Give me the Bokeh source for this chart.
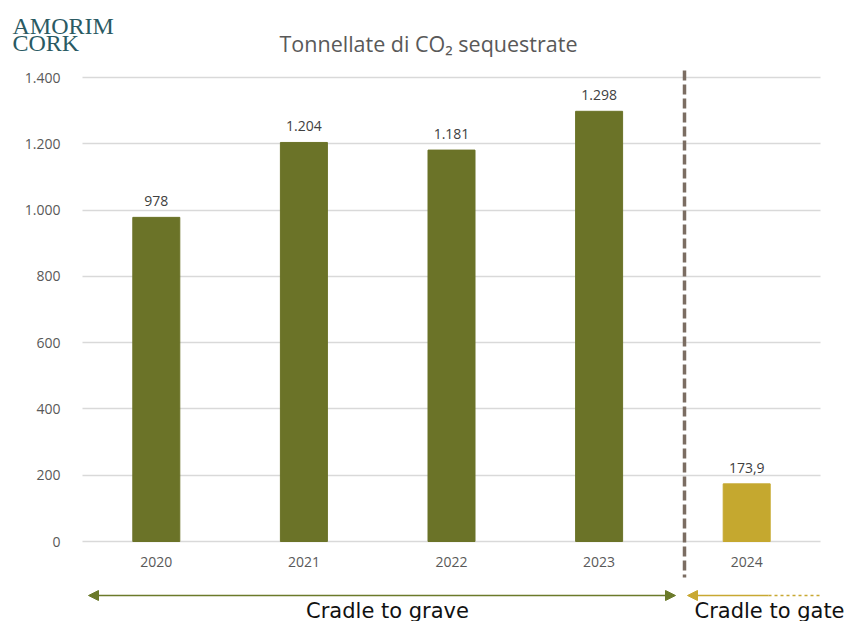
from bokeh.plotting import figure
from bokeh.models import Range1d, FixedTicker, Label, Arrow, NormalHead, Grid
from bokeh.core.properties import value
from bokeh.embed import file_html
from bokeh.resources import INLINE

# ---- data ----
years = ["2020", "2021", "2022", "2023", "2024"]
tonnes = [978, 1204, 1181, 1298, 173.9]
value_labels = ["978", "1.204", "1.181", "1.298", "173,9"]
y_ticks = [0, 200, 400, 600, 800, 1000, 1200, 1400]
y_tick_labels = ["0", "200", "400", "600", "800", "1.000", "1.200", "1.400"]
title_text = "Tonnellate di CO\u2082 sequestrate"
logo_lines = ["AMORIM", "CORK"]
phase_labels = ["Cradle to grave", "Cradle to gate"]

# ---- colours / styles ----
GREEN = "#6b7328"
GOLD = "#c5a82f"
ARROW_GREEN = "#6b7a2a"
ARROW_GOLD = "#c8a832"
bar_colors = [GREEN, GREEN, GREEN, GREEN, GOLD]

# category slot positions (slot centres on a numeric axis)
x_pos = [i + 0.5 for i in range(len(years))]

# ---- layout (pixels inside the figure) ----
W, H = 850, 621
plot_left, plot_right = 82, 820
zero_px, top_tick_px = 541, 77
ppu = (zero_px - top_tick_px) / y_ticks[-1]
ppx = (plot_right - plot_left) / len(years)


def px2x(px):
    return (px - plot_left) / ppx


def px2y(py):
    return (zero_px - py) / ppu


p = figure(width=W, height=H,
           x_range=Range1d(px2x(0), px2x(W)),
           y_range=Range1d(px2y(H), px2y(0)),
           output_backend="svg", toolbar_location=None,
           min_border_left=0, min_border_right=0,
           min_border_top=0, min_border_bottom=0)
p.outline_line_color = None
p.background_fill_color = "white"

# y axis (drawn at the left edge of the plotting area)
p.yaxis.fixed_location = 0
p.yaxis.ticker = FixedTicker(ticks=y_ticks)
p.yaxis.major_label_overrides = {t: l for t, l in zip(y_ticks, y_tick_labels)}
p.yaxis.axis_line_color = None
p.yaxis.major_tick_line_color = None
p.yaxis.minor_tick_line_color = None
p.yaxis.major_label_standoff = 16
p.yaxis.major_label_text_font = "Open Sans"
p.yaxis.major_label_text_font_size = "14px"
p.yaxis.major_label_text_color = "#595959"

# x axis at value 0
p.xaxis.fixed_location = 0
p.xaxis.ticker = FixedTicker(ticks=x_pos)
p.xaxis.major_label_overrides = {x: y for x, y in zip(x_pos, years)}
p.xaxis.axis_line_color = None
p.xaxis.major_tick_line_color = None
p.xaxis.minor_tick_line_color = None
p.xaxis.major_label_standoff = 9
p.xaxis.major_label_text_font = "Open Sans"
p.xaxis.major_label_text_font_size = "14px"
p.xaxis.major_label_text_color = "#595959"

p.xgrid.visible = False
p.ygrid.ticker = FixedTicker(ticks=y_ticks)
p.ygrid.grid_line_color = "#d9d9d9"
p.ygrid.grid_line_width = 1.5
if "cross_bounds" in Grid.properties():
    p.ygrid.cross_bounds = (0, len(years))
else:
    p.ygrid.visible = False
    p.segment(x0=[0] * len(y_ticks), y0=y_ticks, x1=[len(years)] * len(y_ticks), y1=y_ticks,
              line_color="#d9d9d9", line_width=1.5)

# bars
p.vbar(x=x_pos, top=tonnes, width=47 / ppx, color=bar_colors)
p.text(x=x_pos, y=tonnes, text=value_labels, text_align="center",
       text_baseline="alphabetic", y_offset=-16,
       text_font=value("Open Sans"), text_font_size="14px", text_color="#404040")

# divider
div_x = px2x(684)
p.segment(x0=[div_x], y0=[px2y(70)], x1=[div_x], y1=[px2y(577)],
          line_color="#7b6d62", line_width=3.5, line_dash="10 4")

# arrows
arrow_y = px2y(595)
p.add_layout(Arrow(x_start=px2x(88), y_start=arrow_y, x_end=px2x(675), y_end=arrow_y,
                   start=NormalHead(size=10, fill_color=ARROW_GREEN, line_color=ARROW_GREEN),
                   end=NormalHead(size=10, fill_color=ARROW_GREEN, line_color=ARROW_GREEN),
                   line_color=ARROW_GREEN, line_width=1.5))
p.add_layout(Arrow(x_start=px2x(687), y_start=arrow_y, x_end=px2x(768), y_end=arrow_y,
                   start=NormalHead(size=10, fill_color=ARROW_GOLD, line_color=ARROW_GOLD),
                   end=None, line_color=ARROW_GOLD, line_width=1.5))
p.segment(x0=[px2x(768)], y0=[arrow_y], x1=[px2x(820)], y1=[arrow_y],
          line_color=ARROW_GOLD, line_width=1.5, line_dash="3 3")

# texts
p.add_layout(Label(x=px2x(387), y=px2y(610), text=phase_labels[0], text_align="center",
                   text_baseline="alphabetic", text_font="DejaVu Sans",
                   text_font_size="21px", text_color="#111111"))
p.add_layout(Label(x=px2x(694), y=px2y(610), text=phase_labels[1], text_align="left",
                   text_baseline="alphabetic", text_font="DejaVu Sans",
                   text_font_size="21px", text_color="#111111"))
p.add_layout(Label(x=px2x(428), y=px2y(43), text=title_text, text_align="center",
                   text_baseline="alphabetic", text_font="Open Sans",
                   text_font_size="21.5px", text_color="#595959"))
for line, base in zip(logo_lines, [25, 42]):
    p.add_layout(Label(x=px2x(12), y=px2y(base), text=line, text_align="left",
                       text_baseline="alphabetic", text_font="Liberation Serif",
                       text_font_size="24px", text_color="#2a5a63"))

open("out.html", "w").write(file_html(p, INLINE))
